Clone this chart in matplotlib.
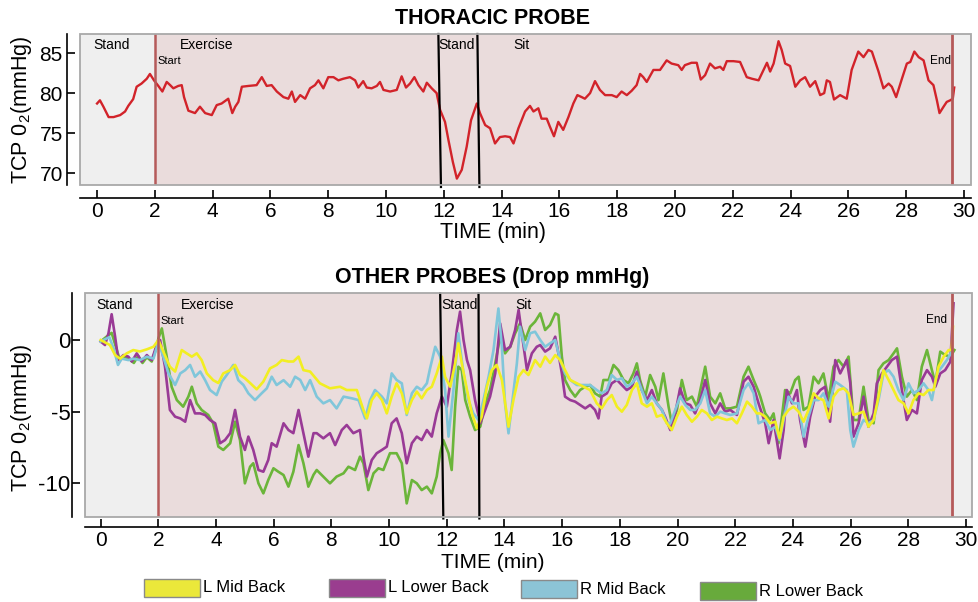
import matplotlib
matplotlib.use('Agg')
import matplotlib.pyplot as plt
from matplotlib.patches import Rectangle

plt.rcParams['font.family'] = ['Liberation Sans', 'DejaVu Sans']
plt.rcParams['axes.unicode_minus'] = False
plt.rcParams['mathtext.fontset'] = 'custom'
plt.rcParams['mathtext.rm'] = 'Liberation Sans'
plt.rcParams['mathtext.it'] = 'Liberation Sans:italic'
plt.rcParams['mathtext.bf'] = 'Liberation Sans:bold'

# ---------------- data ----------------
thor_t = [0.0, 0.1, 0.22, 0.4, 0.57, 0.8, 0.97, 1.08, 1.25, 1.37, 1.54, 1.72, 1.83, 1.97, 2.12, 2.26,
          2.41, 2.53, 2.64, 2.81, 2.93, 3.01, 3.16, 3.39, 3.56, 3.74, 3.97, 4.14, 4.31, 4.54, 4.68,
          4.78, 4.89, 5.01, 5.24, 5.52, 5.7, 5.87, 6.04, 6.22, 6.45, 6.62, 6.74, 6.85, 7.03, 7.2,
          7.37, 7.54, 7.66, 7.83, 8.0, 8.18, 8.35, 8.52, 8.75, 8.93, 9.04, 9.21, 9.33, 9.5, 9.68,
          9.79, 9.91, 10.14, 10.37, 10.54, 10.69, 10.83, 10.98, 11.12, 11.29, 11.41, 11.58, 11.75,
          11.87, 12.04, 12.16, 12.31, 12.45, 12.62, 12.79, 12.94, 13.14, 13.25, 13.43, 13.6, 13.77,
          13.94, 14.12, 14.29, 14.41, 14.58, 14.81, 14.98, 15.1, 15.27, 15.38, 15.56, 15.67, 15.81,
          15.96, 16.13, 16.31, 16.48, 16.62, 16.77, 16.88, 17.06, 17.23, 17.4, 17.58, 17.81, 17.98,
          18.15, 18.33, 18.5, 18.67, 18.79, 18.9, 19.02, 19.25, 19.48, 19.71, 19.88, 20.11, 20.23,
          20.34, 20.57, 20.75, 20.89, 21.04, 21.21, 21.38, 21.56, 21.67, 21.79, 22.02, 22.25, 22.48,
          22.66, 22.89, 23.06, 23.18, 23.29, 23.41, 23.58, 23.69, 23.81, 23.98, 24.16, 24.33, 24.5,
          24.67, 24.85, 25.02, 25.16, 25.25, 25.36, 25.5, 25.71, 25.94, 26.11, 26.34, 26.52, 26.69,
          26.81, 27.04, 27.21, 27.39, 27.5, 27.65, 27.85, 28.02, 28.14, 28.28, 28.43, 28.6, 28.77,
          28.94, 29.06, 29.15, 29.29, 29.4, 29.52, 29.61, 29.66]
thor_v = [78.7, 79.1, 78.3, 77.0, 77.0, 77.25, 77.7, 78.4, 79.25, 80.8, 81.2, 81.8, 82.4, 81.6, 80.9, 80.2,
          81.4, 81.0, 80.6, 80.9, 81.0, 79.5, 77.8, 77.5, 78.3, 77.5, 77.25, 78.5, 78.7, 79.3, 77.5,
          78.3, 78.9, 80.8, 80.9, 81.0, 82.0, 80.9, 81.0, 80.2, 79.5, 79.3, 80.2, 78.9, 79.75, 79.3,
          80.6, 81.0, 81.6, 80.6, 82.0, 82.0, 81.6, 81.8, 82.0, 81.6, 80.7, 81.5, 80.7, 80.6, 80.9,
          81.4, 80.4, 80.2, 80.4, 82.1, 80.7, 81.2, 82.0, 81.0, 80.2, 81.3, 80.6, 80.0,
          77.9, 76.4, 74.1, 71.4, 69.3, 70.4, 73.3, 76.6, 78.7, 77.5, 76.0, 75.6, 73.7,
          74.5, 74.6, 74.5, 73.7, 75.6, 77.7, 78.4, 77.7, 78.1, 76.8, 76.8, 75.8, 74.6,
          76.4, 75.4, 77.0, 78.7, 79.75, 79.5, 79.3, 80.0, 81.5, 80.4, 79.75, 79.75, 79.5,
          80.2, 79.75, 80.3, 81.0, 82.4, 82.0, 81.4, 82.9, 82.9, 84.1, 83.7, 83.5, 82.9,
          83.5, 83.8, 83.8, 81.7, 82.25, 83.7, 83.1, 83.3, 82.9, 84.0, 84.0, 83.9, 82.0,
          81.8, 81.6, 82.9, 83.8, 82.7, 83.7, 86.5, 85.4, 83.7, 83.4, 80.8, 81.6, 82.0,
          80.8, 81.5, 79.75, 80.0, 81.6, 81.4, 79.2, 79.75, 79.3, 82.9, 85.2, 84.5, 85.4,
          85.2, 82.7, 80.6, 81.2, 80.8, 79.5, 81.8, 83.7, 83.9, 85.2, 84.5, 84.1, 81.6,
          81.0, 79.1, 77.5, 78.3, 78.9, 79.1, 79.3, 80.7]

lmid_t = [0.0, 0.32, 0.5, 0.67, 0.9, 1.13, 1.36, 1.6, 1.83, 2.0, 2.17, 2.4, 2.58, 2.81, 2.98, 3.16, 3.33,
          3.5, 3.68, 3.9, 4.08, 4.25, 4.49, 4.66, 4.83, 5.0, 5.18, 5.41, 5.64, 5.87, 6.1, 6.28, 6.51,
          6.68, 6.86, 7.03, 7.26, 7.6, 7.95, 8.3, 8.53, 8.88, 9.11, 9.23, 9.4, 9.57, 9.75, 9.92, 10.09,
          10.26, 10.44, 10.61, 10.79, 10.96, 11.13, 11.31, 11.48, 11.65, 11.83, 11.94, 12.12, 12.29,
          12.4, 12.52, 12.7, 12.87, 13.04, 13.21, 13.39, 13.56, 13.73, 13.91, 14.14, 14.31, 14.49,
          14.66, 14.83, 15.06, 15.24, 15.41, 15.58, 15.76, 15.93, 16.1, 16.28, 16.51, 16.74, 16.97,
          17.2, 17.37, 17.55, 17.72, 17.9, 18.07, 18.24, 18.42, 18.59, 18.76, 18.94, 19.11, 19.28,
          19.46, 19.63, 19.8, 19.98, 20.15, 20.32, 20.5, 20.67, 20.84, 21.02, 21.19, 21.37, 21.54,
          21.71, 21.89, 22.06, 22.23, 22.41, 22.58, 22.75, 22.87, 23.04, 23.21, 23.39, 23.54, 23.68,
          23.85, 24.02, 24.2, 24.37, 24.54, 24.72, 24.89, 25.06, 25.24, 25.41, 25.58, 25.76, 25.93,
          26.1, 26.28, 26.45, 26.62, 26.8, 26.97, 27.14, 27.32, 27.49, 27.66, 27.84, 28.01, 28.18,
          28.36, 28.53, 28.7, 28.88, 29.05, 29.23, 29.4, 29.5, 29.55]
lmid_v = [0.0, -0.35, -1.05, -1.3, -0.93, -0.7, -0.8, -0.65, -0.47, 0.0, -0.8, -1.86, -2.2, -0.7, -0.93,
          -1.16, -0.93, -1.4, -2.33, -2.8, -3.0, -2.33, -2.1, -1.74, -2.44, -2.67, -3.0, -3.44, -2.9,
          -1.98, -1.74, -1.4, -1.5, -1.5, -1.16, -2.1, -2.2, -3.02, -3.37, -3.26, -3.49, -3.49, -4.88,
          -5.47, -4.19, -3.72, -4.19, -5.12, -3.95, -3.02, -3.72, -5.12, -4.19, -3.6, -4.07, -3.49,
          -3.26, -2.33, -1.16, -2.56, -3.26, -1.63, -0.23, -1.63, -3.49, -5.12, -6.16, -5.35, -3.26,
          -2.1, -1.74, -2.79, -6.05, -4.19, -2.56, -2.1, -2.44, -1.4, -1.86, -1.16, -1.6, -1.05, -1.4,
          -2.1, -2.79, -3.02, -3.26, -3.49, -4.42, -4.77, -4.19, -3.84, -4.65, -5.0, -4.53, -3.49,
          -3.02, -4.42, -4.65, -4.42, -5.35, -5.23, -5.81, -6.28, -5.35, -4.65, -5.23, -5.7, -5.35,
          -4.88, -5.12, -5.58, -5.35, -5.47, -5.58, -5.47, -5.81, -5.12, -4.3, -4.65, -5.12, -5.12,
          -5.35, -5.81, -5.7, -6.86, -5.35, -4.88, -4.65, -5.0, -5.7, -4.88, -3.72, -4.07, -4.19,
          -5.47, -3.95, -3.49, -3.37, -3.72, -5.23, -5.12, -5.0, -6.05, -5.58, -3.95, -2.1, -2.79,
          -3.49, -4.19, -4.42, -5.12, -4.19, -3.72, -3.84, -3.49, -3.49, -1.86, -1.16, -0.7, -0.7, 0.93]

rmid_t = [0.0, 0.3, 0.45, 0.6, 0.73, 0.96, 1.13, 1.36, 1.6, 1.83, 2.0, 2.17, 2.35, 2.58, 2.76, 2.93, 3.1,
          3.27, 3.45, 3.62, 3.79, 4.02, 4.2, 4.37, 4.6, 4.77, 4.95, 5.12, 5.35, 5.58, 5.76, 5.93, 6.1,
          6.34, 6.57, 6.74, 6.92, 7.09, 7.26, 7.49, 7.72, 7.95, 8.18, 8.42, 8.71, 8.94, 9.17, 9.34,
          9.51, 9.75, 9.92, 10.09, 10.26, 10.44, 10.61, 10.79, 10.96, 11.13, 11.31, 11.42, 11.6,
          11.77, 11.94, 12.06, 12.23, 12.4, 12.58, 12.75, 12.92, 13.1, 13.27, 13.45, 13.62, 13.79,
          13.91, 14.02, 14.14, 14.25, 14.43, 14.54, 14.72, 14.89, 15.06, 15.24, 15.41, 15.58, 15.76,
          15.93, 16.1, 16.28, 16.51, 16.74, 16.97, 17.2, 17.37, 17.55, 17.72, 17.9, 18.07, 18.24,
          18.42, 18.59, 18.76, 18.94, 19.11, 19.28, 19.46, 19.63, 19.75, 19.92, 20.09, 20.27, 20.44,
          20.61, 20.79, 20.96, 21.13, 21.31, 21.48, 21.65, 21.83, 22.06, 22.29, 22.46, 22.64, 22.81,
          23.04, 23.21, 23.39, 23.54, 23.68, 23.85, 24.02, 24.2, 24.37, 24.54, 24.72, 24.89, 25.06,
          25.24, 25.47, 25.64, 25.87, 25.99, 26.1, 26.28, 26.45, 26.62, 26.8, 26.97, 27.14, 27.32,
          27.49, 27.66, 27.84, 28.01, 28.18, 28.36, 28.53, 28.7, 28.82, 28.99, 29.17, 29.34, 29.51]
rmid_v = [-0.1, 0.2, -0.6, -1.74, -1.3, -1.4, -1.3, -1.4, -1.16, -1.3, -0.1, -1.16, -2.33, -3.14, -2.33,
          -2.1, -1.74, -2.56, -2.2, -2.8, -3.49, -3.84, -2.9, -2.44, -1.74, -2.8, -3.14, -3.72, -4.19,
          -3.72, -3.37, -2.56, -3.14, -2.8, -3.26, -2.56, -2.79, -3.49, -2.8, -3.95, -4.42, -4.19,
          -4.77, -3.95, -4.07, -4.19, -5.47, -4.19, -3.49, -3.95, -4.42, -2.33, -2.79, -3.02, -5.23,
          -3.72, -3.26, -3.49, -3.02, -1.98, -0.47, -1.16, -3.49, -6.74, -3.49, 0.47, -2.33, -4.19,
          -5.12, -5.58, -4.19, -2.56, -0.7, 2.2, -0.47, -4.42, -6.51, -4.65, -1.63, 0.93, -0.7, 0.47,
          0.58, 0.0, -0.47, -0.23, 0.0, -1.4, -2.33, -2.79, -3.14, -3.14, -3.14, -3.49, -3.72, -3.49,
          -2.44, -2.79, -2.67, -3.26, -3.02, -2.56, -3.49, -4.42, -3.95, -4.42, -4.88, -5.81, -5.81,
          -4.88, -3.95, -4.53, -4.88, -4.88, -4.42, -3.49, -5.12, -5.35, -5.0, -5.12, -5.23, -5.12,
          -3.49, -3.02, -3.72, -5.81, -5.58, -6.28, -6.05, -6.98, -5.58, -3.95, -4.42, -4.42, -6.74,
          -5.35, -4.19, -4.19, -3.72, -4.65, -2.91, -3.14, -3.49, -6.28, -7.44, -6.28, -5.58, -5.81,
          -5.58, -4.19, -2.33, -2.1, -2.56, -3.49, -4.19, -3.02, -3.72, -3.49, -3.02, -3.49, -4.19,
          -2.33, -1.86, -1.4, -0.81]

llow_t = [0.0, 0.15, 0.27, 0.38, 0.5, 0.61, 0.79, 0.96, 1.08, 1.25, 1.42, 1.6, 1.77, 1.94, 2.06, 2.23,
          2.4, 2.58, 2.76, 2.93, 3.1, 3.27, 3.45, 3.62, 3.79, 3.97, 4.14, 4.31, 4.49, 4.66, 4.83, 5.0,
          5.12, 5.29, 5.47, 5.64, 5.81, 5.93, 6.1, 6.34, 6.51, 6.68, 6.86, 7.03, 7.2, 7.38, 7.49, 7.72,
          7.95, 8.13, 8.36, 8.53, 8.76, 8.99, 9.11, 9.23, 9.4, 9.57, 9.75, 9.92, 10.09, 10.26, 10.44,
          10.61, 10.79, 10.96, 11.13, 11.31, 11.48, 11.65, 11.83, 12.0, 12.17, 12.35, 12.46, 12.58,
          12.7, 12.81, 12.98, 13.16, 13.33, 13.5, 13.68, 13.85, 14.02, 14.2, 14.37, 14.49, 14.6,
          14.78, 14.95, 15.12, 15.24, 15.41, 15.58, 15.76, 15.87, 15.99, 16.1, 16.28, 16.45, 16.62,
          16.8, 16.97, 17.14, 17.26, 17.37, 17.55, 17.72, 17.9, 18.07, 18.24, 18.42, 18.59, 18.76,
          18.94, 19.11, 19.28, 19.46, 19.57, 19.75, 19.92, 20.09, 20.27, 20.44, 20.61, 20.79, 20.96,
          21.13, 21.31, 21.48, 21.65, 21.83, 22.06, 22.29, 22.46, 22.64, 22.81, 23.04, 23.16, 23.33,
          23.54, 23.68, 23.79, 23.97, 24.14, 24.25, 24.43, 24.6, 24.77, 24.95, 25.12, 25.29, 25.47,
          25.64, 25.87, 25.99, 26.1, 26.28, 26.45, 26.62, 26.8, 26.91, 27.09, 27.26, 27.43, 27.61,
          27.78, 27.95, 28.13, 28.3, 28.47, 28.65, 28.82, 28.94, 29.11, 29.28, 29.46, 29.57]
llow_v = [-0.1, -0.35, 0.47, 1.8, 0.23, -1.4, -1.05, -1.16, -1.5, -0.93, -1.5, -1.05, -1.4, -0.35, 0.0,
          -1.86, -4.88, -5.35, -5.47, -5.7, -4.19, -5.12, -5.12, -5.23, -5.58, -5.81, -7.2, -6.98,
          -6.5, -4.88, -6.74, -7.67, -6.74, -7.67, -9.07, -9.19, -8.37, -7.2, -7.44, -5.81, -6.28,
          -6.5, -4.88, -6.5, -8.14, -6.5, -6.5, -6.86, -6.5, -7.33, -6.28, -5.93, -6.5, -6.28, -8.14,
          -9.53, -8.37, -7.9, -7.67, -7.44, -5.81, -5.47, -6.5, -8.6, -7.2, -6.74, -6.98, -6.28,
          -6.74, -5.12, -3.95, -4.65, -2.33, 0.7, 1.98, 0.0, -1.4, -2.1, -4.19, -5.81, -4.88, -3.95,
          -2.33, 1.16, -0.7, -0.47, 0.7, 2.1, 0.47, -2.1, -0.93, -0.47, -0.35, -0.81, -0.58, 0.23,
          -0.93, -2.33, -3.95, -4.19, -4.3, -4.53, -4.77, -4.53, -4.88, -5.47, -3.95, -3.72, -3.02,
          -2.79, -3.14, -3.49, -3.26, -2.21, -3.49, -4.19, -3.49, -4.42, -4.88, -5.35, -6.28, -5.12,
          -3.37, -4.42, -4.53, -5.12, -4.19, -2.79, -4.42, -5.12, -4.42, -5.0, -4.88, -5.23, -2.91,
          -2.56, -3.26, -4.42, -5.81, -7.2, -5.58, -8.26, -6.28, -3.49, -4.42, -3.49, -5.58, -7.44,
          -5.35, -3.95, -3.49, -3.26, -5.7, -1.4, -2.33, -1.4, -3.0, -6.74, -5.81, -3.95, -6.05,
          -5.12, -3.02, -2.33, -1.86, -1.4, -1.16, -3.49, -5.58, -4.88, -5.12, -2.79, -2.1, -2.56,
          -3.26, -2.33, -2.1, -1.51, 2.56]

rlow_t = [0.0, 0.2, 0.38, 0.5, 0.65, 0.85, 1.0, 1.15, 1.3, 1.45, 1.6, 1.77, 1.94, 2.0, 2.12, 2.29, 2.46,
          2.64, 2.86, 3.04, 3.16, 3.33, 3.5, 3.73, 3.9, 4.08, 4.25, 4.49, 4.66, 4.83, 5.0, 5.18, 5.29,
          5.47, 5.64, 5.81, 5.99, 6.16, 6.34, 6.51, 6.68, 6.86, 7.03, 7.2, 7.38, 7.49, 7.72, 7.95,
          8.18, 8.42, 8.59, 8.82, 8.99, 9.11, 9.28, 9.46, 9.63, 9.8, 10.03, 10.26, 10.44, 10.61,
          10.79, 10.96, 11.13, 11.31, 11.48, 11.65, 11.77, 11.88, 12.06, 12.17, 12.29, 12.4, 12.52,
          12.64, 12.81, 12.98, 13.16, 13.33, 13.5, 13.68, 13.85, 14.02, 14.2, 14.37, 14.54, 14.72,
          14.89, 15.06, 15.24, 15.41, 15.58, 15.76, 15.87, 15.99, 16.1, 16.28, 16.45, 16.62, 16.8,
          16.97, 17.14, 17.32, 17.43, 17.61, 17.78, 17.95, 18.13, 18.3, 18.47, 18.59, 18.7, 18.88,
          19.05, 19.23, 19.34, 19.51, 19.69, 19.8, 19.98, 20.15, 20.32, 20.5, 20.67, 20.79, 20.96,
          21.13, 21.31, 21.48, 21.65, 21.83, 22.06, 22.29, 22.46, 22.64, 22.81, 22.87, 23.04, 23.21,
          23.33, 23.5, 23.62, 23.73, 23.91, 24.08, 24.2, 24.37, 24.54, 24.72, 24.89, 25.06, 25.24,
          25.41, 25.58, 25.76, 25.93, 26.1, 26.28, 26.45, 26.62, 26.8, 26.97, 27.14, 27.32, 27.49,
          27.61, 27.78, 27.95, 28.13, 28.3, 28.47, 28.65, 28.82, 28.94, 29.11, 29.28, 29.46, 29.6]
rlow_v = [-0.1, 0.23, 0.5, -0.3, -1.3, -1.2, -1.35, -1.6, -1.1, -1.6, -1.2, -1.5, -0.5, 0.1, 0.81, -1.16,
          -3.26, -4.19, -4.65, -3.95, -3.26, -4.42, -4.88, -5.23, -5.81, -7.44, -7.67, -7.2, -5.7,
          -6.98, -10.0, -8.84, -8.6, -10.0, -10.7, -9.77, -8.95, -9.19, -9.42, -10.23, -9.19, -7.33,
          -8.6, -10.23, -9.4, -9.07, -9.53, -10.0, -9.53, -9.3, -8.84, -9.07, -8.14, -8.6, -10.47,
          -9.3, -8.95, -9.07, -7.9, -7.9, -8.6, -11.4, -9.77, -10.0, -10.47, -10.23, -10.7, -9.53,
          -7.9, -6.98, -7.9, -9.07, -4.65, -1.86, -2.1, -4.19, -5.35, -6.28, -6.05, -4.42, -3.49,
          -1.63, 0.23, -0.93, -0.47, 0.47, 1.16, 0.0, 0.93, 1.28, 1.86, 0.7, 1.05, 1.86, 1.74, -1.16,
          -2.79, -3.49, -3.95, -3.49, -3.26, -3.14, -3.72, -3.95, -2.79, -2.79, -1.74, -2.1, -2.79,
          -3.02, -2.33, -1.63, -2.79, -3.95, -2.44, -3.26, -4.19, -2.33, -4.65, -5.81, -4.88, -2.79,
          -4.19, -3.95, -4.65, -3.49, -1.86, -3.95, -4.42, -3.72, -4.77, -4.77, -4.65, -2.56, -1.86,
          -2.79, -3.6, -3.95, -5.12, -5.58, -5.12, -7.2, -5.35, -3.49, -3.72, -2.79, -2.56, -4.88,
          -4.65, -2.56, -3.02, -2.33, -4.19, -1.86, -1.4, -1.86, -1.16, -5.58, -5.58, -3.26, -5.58,
          -5.81, -2.1, -1.63, -1.4, -0.93, -0.58, -2.56, -3.95, -3.49, -4.19, -1.86, -0.7, -2.1,
          -3.02, -0.81, -1.05, -1.16, -0.7]

series_names = ['L Mid Back', 'L Lower Back', 'R Mid Back', 'R Lower Back']
series_colors = ['#f2ee22', '#993a96', '#80c6da', '#6bb53a']
legend_colors = ['#ebe83a', '#9a3d8f', '#8cc4d6', '#68aa3c']

# phase markers (minutes)
start_time = 2.0
end_time_top = 29.57
end_time_bot = 29.52
stand_lines_top = [(11.81, 11.90), (13.16, 13.23)]
stand_lines_bot = [(11.77, 11.88), (13.10, 13.13)]
xticks = list(range(0, 31, 2))

# ---------------- figure ----------------
W, H = 979, 602
fig = plt.figure(figsize=(W / 100, H / 100), dpi=100)
fig.patch.set_facecolor('white')

def fx(px):
    return px / W

def fy(py):
    return 1 - py / H

ax1 = fig.add_axes([fx(80), fy(185), fx(971) - fx(80), fy(34) - fy(185)])
ax2 = fig.add_axes([fx(85), fy(517.3), fx(971.7) - fx(85), fy(293.3) - fy(517.3)])

GRAY = '#efefef'
PINK = '#eadcdc'
RED_LINE = '#b55a5a'


def style(ax, xlim, ylim, yticks, left_off, bottom_off, ytick_fs, ypad, end_time):
    ax.set_xlim(*xlim)
    ax.set_ylim(*ylim)
    ax.axvspan(xlim[0], start_time, color=GRAY, lw=0, zorder=0)
    ax.axvspan(start_time, end_time, color=PINK, lw=0, zorder=0)
    ax.axvspan(end_time, xlim[1], color=GRAY, lw=0, zorder=0)
    ax.add_patch(Rectangle((0, 0), 1, 1, transform=ax.transAxes, fill=False,
                           ec='#a9a9a9', lw=1.3, clip_on=False, zorder=6))
    ax.axvline(start_time, color=RED_LINE, lw=1.8, zorder=4)
    ax.axvline(end_time, color=RED_LINE, lw=2.0, zorder=4)
    for s in ['top', 'right']:
        ax.spines[s].set_visible(False)
    ax.spines['left'].set_position(('outward', left_off))
    ax.spines['bottom'].set_position(('outward', bottom_off))
    for s in ['left', 'bottom']:
        ax.spines[s].set_linewidth(1.2)
    ax.set_xticks(xticks)
    ax.set_xticklabels([str(v) for v in xticks])
    ax.set_yticks(yticks)
    ax.set_yticklabels([str(v) for v in yticks])
    ax.tick_params(axis='x', direction='in', length=5.5, width=1.2, labelsize=15, pad=3)
    ax.tick_params(axis='y', direction='in', length=5.5, width=1.2, labelsize=ytick_fs, pad=ypad)


style(ax1, (-0.59, 30.24), (68.5, 87.4), [70, 75, 80, 85], 9.4, 9.4, 15, 3, end_time_top)
style(ax2, (-0.544, 30.2), (-12.37, 3.26), [0, -5, -10], 9.4, 7.2, 16, 1, end_time_bot)

# stand/sit boundary lines (slightly slanted, as in the original)
for (xa, xb) in stand_lines_top:
    ax1.plot([xa, xb], [87.4, 68.25], color='black', lw=1.6, zorder=5, clip_on=False)
for (xa, xb) in stand_lines_bot:
    ax2.plot([xa, xb], [3.26, -12.45], color='black', lw=1.6, zorder=5, clip_on=False)

# data
ax1.plot(thor_t, thor_v, color='#d2232a', lw=1.7, zorder=3)

bot_data = [(lmid_t, lmid_v), (llow_t, llow_v), (rmid_t, rmid_v), (rlow_t, rlow_v)]
draw_order = [3, 1, 2, 0]
for i in draw_order:
    t, v = bot_data[i]
    ax2.plot(t, v, color=series_colors[i], lw=1.9, zorder=3)

# phase labels
tr1 = ax1.get_xaxis_transform()
ax1.text(-0.14, 0.925, 'Stand', transform=tr1, fontsize=10, va='center', ha='left')
ax1.text(2.87, 0.925, 'Exercise', transform=tr1, fontsize=10, va='center', ha='left')
ax1.text(2.08, 0.82, 'Start', transform=tr1, fontsize=8, va='center', ha='left')
ax1.text(11.8, 0.925, 'Stand', transform=tr1, fontsize=10, va='center', ha='left', zorder=7)
ax1.text(14.4, 0.925, 'Sit', transform=tr1, fontsize=10, va='center', ha='left')
ax1.text(28.82, 0.82, 'End', transform=tr1, fontsize=8.5, va='center', ha='left')

tr2 = ax2.get_xaxis_transform()
ax2.text(-0.16, 0.95, 'Stand', transform=tr2, fontsize=10, va='center', ha='left')
ax2.text(2.78, 0.95, 'Exercise', transform=tr2, fontsize=10, va='center', ha='left')
ax2.text(2.09, 0.875, 'Start', transform=tr2, fontsize=8, va='center', ha='left')
ax2.text(11.8, 0.95, 'Stand', transform=tr2, fontsize=10, va='center', ha='left', zorder=7)
ax2.text(14.37, 0.95, 'Sit', transform=tr2, fontsize=10, va='center', ha='left', zorder=7)
ax2.text(28.62, 0.88, 'End', transform=tr2, fontsize=8.5, va='center', ha='left', zorder=7)

# titles and axis labels
fig.text(fx(493), fy(18), 'THORACIC PROBE', fontsize=15.5, fontweight='bold', ha='center', va='center')
fig.text(fx(492), fy(278), 'OTHER PROBES (Drop mmHg)', fontsize=15.5, fontweight='bold', ha='center', va='center')
fig.text(fx(493), fy(232), 'TIME (min)', fontsize=15.5, ha='center', va='center')
fig.text(fx(493), fy(562), 'TIME (min)', fontsize=15, ha='center', va='center')
fig.text(fx(22), fy(110), r'TCP 0$_\mathrm{2}$(mmHg)', fontsize=15.5, rotation=90, ha='center', va='center')
fig.text(fx(22), fy(418), r'TCP 0$_\mathrm{2}$(mmHg)', fontsize=15.5, rotation=90, ha='center', va='center')

# legend (manual boxes)
leg_box_x = [144, 329, 521, 700]
leg_box_y = [579, 579, 580, 582]
for name, col, bx, by in zip(series_names, legend_colors, leg_box_x, leg_box_y):
    fig.patches.append(Rectangle((fx(bx), fy(by + 18)), fx(56), 18 / H, transform=fig.transFigure,
                                 facecolor=col, edgecolor='#8a8a8a', lw=1.0))
    fig.text(fx(bx + 59), fy(by + 9), name, fontsize=12, ha='left', va='center')

fig.savefig('out.png', dpi=100)
